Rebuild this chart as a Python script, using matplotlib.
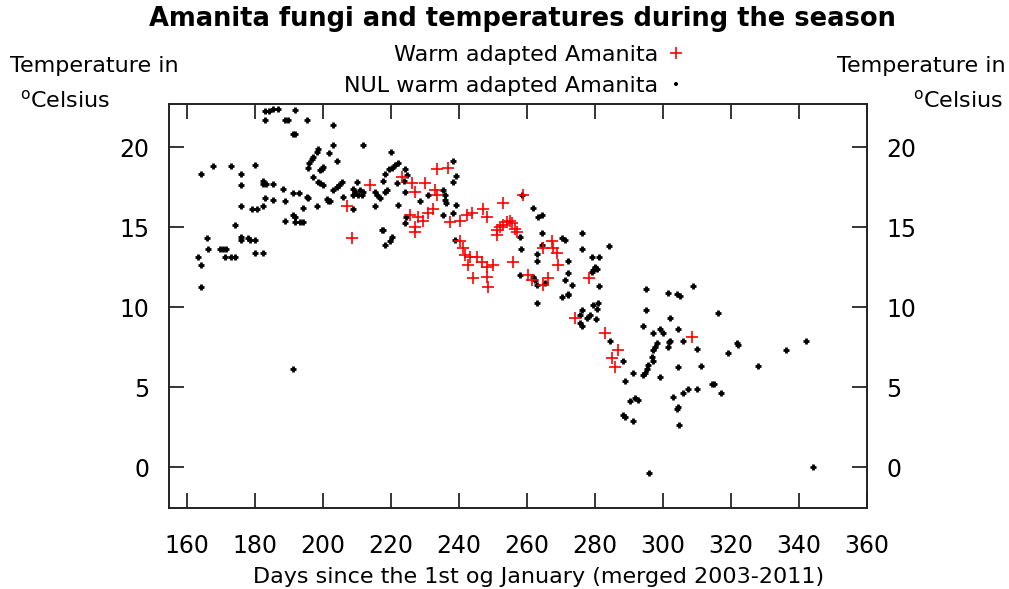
import matplotlib
matplotlib.use("Agg")
import matplotlib.pyplot as plt
from matplotlib.lines import Line2D

# NUL warm adapted Amanita (day of year, temperature)
nul_days = [183, 184, 185.3, 186.8, 191.8, 183, 188.8, 189.7, 195.3, 191.2, 191.8, 203, 203,
            198.5, 198.2, 197.1, 196.8, 195.9, 195.6, 201.8, 204.1, 200, 199.7, 199.1, 197.1,
            198.5, 199.1, 200, 202.9, 164.1, 167.6, 172.9, 180, 175.9, 175.9, 182.4, 182.4,
            183.2, 185.3, 188.2, 182.9, 185.3, 188.8, 191.2, 192.9, 195.3, 195.6, 194.1, 198.2,
            201.2, 201.5, 175.9, 179.1, 180.6, 182.4, 191.2, 191.8, 188.8, 191.8, 193.2, 194.1,
            174.1, 165.9, 175.9, 175.9, 177.9, 178.5, 180, 166.2, 169.7, 170.6, 171.5, 180,
            182.4, 163.2, 171.2, 172.9, 174.1, 164.1, 164.1, 191.2,
            211.8, 220, 238.2, 222.1, 221.2, 220.3, 219.4, 218.2, 217.6, 224.1, 224.7, 239.1,
            238.2, 223.8, 221.8, 205.6, 204.7, 204.1, 210, 208.8, 209.4, 210.9, 211.8, 211.5,
            210.3, 208.8, 205.9, 202.1, 208.8, 215.3, 215.9, 218.2, 218.8, 216.8, 215.3, 222.1,
            224.1, 228.5, 230.9, 235.3, 235.9, 235.9, 236.2, 239.1, 238.2, 235.3, 224.4, 224.1,
            217.4, 217.6, 220.3, 219.7, 218.2, 238.8,
            258.5, 261.8, 263.2, 264.4, 257.9, 264.4, 270.3, 271.2, 276.2, 276.2, 258.2, 262.9,
            262.9, 272.1, 264.4, 284.1, 279.1, 281.2, 280, 279.4, 280.6, 279.1, 257.9, 261.8,
            262.4, 272.1, 271.2, 273.2, 262.9, 281.2, 272.1, 295, 301.5, 304.1, 265.3, 262.9,
            270.3, 272.1, 276.2, 275.6, 277.6, 278.5, 279.4, 280.6, 280.9, 280.3, 275.6, 276.2,
            308.8, 295, 302.1, 294.1, 297.1, 299.1, 300, 304.4, 298.2, 297.6, 297.1, 302.1,
            301.5, 284.4, 296.8, 297.1, 295.6, 288.2, 295.3, 294.7, 294.1, 291.2, 288.8, 299.1,
            304.4, 302.9, 304.4, 304.1, 290.3, 291.8, 292.6, 288.2, 288.8, 291.2, 304.7, 295.9,
            305, 316.2, 301.8, 305.9, 310, 321.8, 322.1, 319.1, 336.2, 342.1, 311.2, 328,
            307.4, 310, 314.4, 315, 317.1, 305.9, 344.1]
nul_temps = [22.25, 22.25, 22.4, 22.4, 22.3, 21.7, 21.7, 21.7, 21.7, 20.8, 20.8, 21.4, 20.1,
             19.9, 19.7, 19.4, 19.25, 19.0, 18.7, 19.6, 19.1, 18.75, 18.6, 18.55, 18.1,
             17.8, 17.75, 17.6, 17.3, 18.3, 18.8, 18.8, 18.9, 18.3, 17.6, 17.9, 17.7,
             17.7, 17.7, 17.4, 16.8, 16.7, 16.6, 17.1, 17.1, 16.9, 16.8, 16.2, 16.3,
             16.75, 16.6, 16.3, 16.1, 16.1, 16.3, 15.75, 15.6, 15.4, 15.3, 15.3, 15.3,
             15.1, 14.3, 14.4, 14.2, 14.3, 14.2, 14.2, 13.6, 13.6, 13.6, 13.6, 13.4,
             13.4, 13.1, 13.1, 13.1, 13.1, 12.6, 11.25, 6.1,
             20.1, 19.7, 19.1, 19.0, 18.9, 18.7, 18.6, 18.3, 17.9, 18.6, 18.25, 18.2,
             17.8, 17.9, 17.75, 17.8, 17.6, 17.5, 17.8, 17.4, 17.2, 17.3, 17.2, 17.0,
             17.0, 17.0, 16.9, 16.6, 16.1, 17.2, 17.0, 17.2, 17.3, 16.8, 16.3, 16.4,
             17.2, 16.6, 17.0, 17.3, 17.0, 16.7, 16.5, 16.4, 15.9, 15.75, 15.6, 15.25,
             14.8, 14.8, 14.4, 14.1, 13.9, 14.2,
             17.0, 16.2, 15.6, 15.75, 14.4, 14.6, 14.3, 14.2, 14.6, 13.6, 13.6, 13.3,
             12.9, 12.9, 13.9, 13.8, 13.1, 13.1, 12.5, 12.3, 12.4, 12.2, 12.0, 11.9,
             11.7, 12.1, 11.7, 11.4, 11.4, 11.3, 10.8, 11.1, 10.9, 10.8, 11.5, 10.25,
             10.6, 10.75, 9.8, 9.5, 9.3, 9.5, 10.1, 9.9, 10.25, 9.25, 9.0, 8.8,
             11.3, 9.8, 9.3, 8.8, 8.4, 8.6, 8.4, 8.6, 7.75, 7.5, 7.3, 7.9,
             7.5, 7.9, 6.9, 6.6, 6.4, 6.6, 6.1, 5.9, 5.75, 5.9, 5.4, 5.6,
             6.25, 4.4, 3.75, 3.6, 4.1, 4.3, 4.2, 3.25, 3.1, 2.9, 2.6, -0.4,
             10.7, 9.6, 7.8, 7.9, 7.4, 7.75, 7.6, 7.1, 7.3, 7.9, 6.3, 6.3,
             4.9, 4.9, 5.2, 5.2, 4.6, 4.6, 0.0]

# Warm adapted Amanita
warm_days = [207.1, 208.5, 213.8, 223.2, 226.2, 227.1, 230, 232.9, 233.5, 236.8, 227.9, 229.4,
             230.9, 232.4, 225.6, 227.1, 227.1, 233.5, 237.4, 240.3, 242.4, 243.8, 247.1, 248.2,
             252.9, 240.3, 241.2, 241.8, 243.2, 245.3, 246.8, 242.6, 248.2, 250, 244.1, 248.2,
             248.5, 251.2, 252.1, 252.9, 254.1, 255, 251.2, 258.8, 255.6, 256.5, 257.1, 255.9,
             264.7, 267.4, 267.6, 268.8, 269.1, 260.3, 261.5, 264.7, 266.2, 278.2, 274.1, 282.9,
             286.8, 285, 285.9, 308.5]
warm_temps = [16.3, 14.3, 17.6, 18.1, 17.75, 17.2, 17.75, 17.3, 18.6, 18.7, 15.6, 15.4,
              15.9, 16.1, 15.75, 15.0, 14.7, 17.0, 15.3, 15.4, 15.75, 15.9, 16.1, 15.6,
              16.5, 14.1, 13.7, 13.25, 13.1, 13.1, 12.8, 12.6, 12.5, 12.6, 11.8, 11.9,
              11.25, 14.8, 15.0, 15.1, 15.3, 15.4, 14.5, 17.0, 15.25, 14.9, 14.7, 12.8,
              13.7, 14.1, 13.7, 13.4, 12.6, 12.0, 11.7, 11.4, 11.8, 11.8, 9.3, 8.4,
              7.3, 6.8, 6.25, 8.1]

x_ticks = [160, 180, 200, 220, 240, 260, 280, 300, 320, 340, 360]
y_ticks = [0, 5, 10, 15, 20]

plt.rcParams['font.family'] = ['DejaVu Sans']
txt = 16

fig = plt.figure(figsize=(10.09, 5.89), dpi=100)
ax = fig.add_axes([0.1672, 0.1375, 0.6921, 0.6859])

ax.plot(warm_days, warm_temps, linestyle='none', marker='+', color='red',
        markersize=9, markeredgewidth=1.2, zorder=3)
ax.plot(nul_days, nul_temps, linestyle='none', marker='+', color='black',
        markersize=4.2, markeredgewidth=2.0, zorder=2)

ax.set_xlim(154.6, 360)
ax.set_ylim(-2.56, 22.69)
ax.set_xticks(x_ticks)
ax.set_yticks(y_ticks)
ax.tick_params(direction='in', length=10.5, width=1.1, labelsize=17, pad=14,
               top=True, right=True, labelright=True)
ax.tick_params(axis='x', pad=19)
for s in ax.spines.values():
    s.set_linewidth(1.4)
    s.set_color('#222222')

ax.set_xlabel("Days since the 1st og January (merged 2003-2011)", fontsize=txt, va='center')
ax.xaxis.set_label_coords(0.5303, -0.171)
fig.text(0.518, 1 - 19 / 589, "Amanita fungi and temperatures during the season",
         ha='center', va='center', fontsize=18.5, fontweight='bold')

fig.text(0.010, 1 - 66 / 589, "Temperature in", ha='left', va='center', fontsize=txt)
fig.text(0.997, 1 - 66 / 589, "Temperature in", ha='right', va='center', fontsize=txt)
fig.text(0.020, 1 - 100 / 589, "$^{\\mathrm{o}}$Celsius", ha='left', va='center', fontsize=txt)
fig.text(0.994, 1 - 100 / 589, "$^{\\mathrm{o}}$Celsius", ha='right', va='center', fontsize=txt)

handles = [Line2D([], [], linestyle='none', marker='+', color='red', markersize=9, markeredgewidth=1.2),
           Line2D([], [], linestyle='none', marker='+', color='black', markersize=3.5, markeredgewidth=1.6)]
fig.legend(handles, ["Warm adapted Amanita", "NUL warm adapted Amanita"],
           loc='center right', bbox_to_anchor=(687 / 1009, 1 - 70.5 / 589), markerfirst=False,
           frameon=False, fontsize=txt, handlelength=1.0, handletextpad=0.3, labelspacing=0.5,
           borderpad=0, borderaxespad=0)

fig.savefig("out.png", dpi=100)
